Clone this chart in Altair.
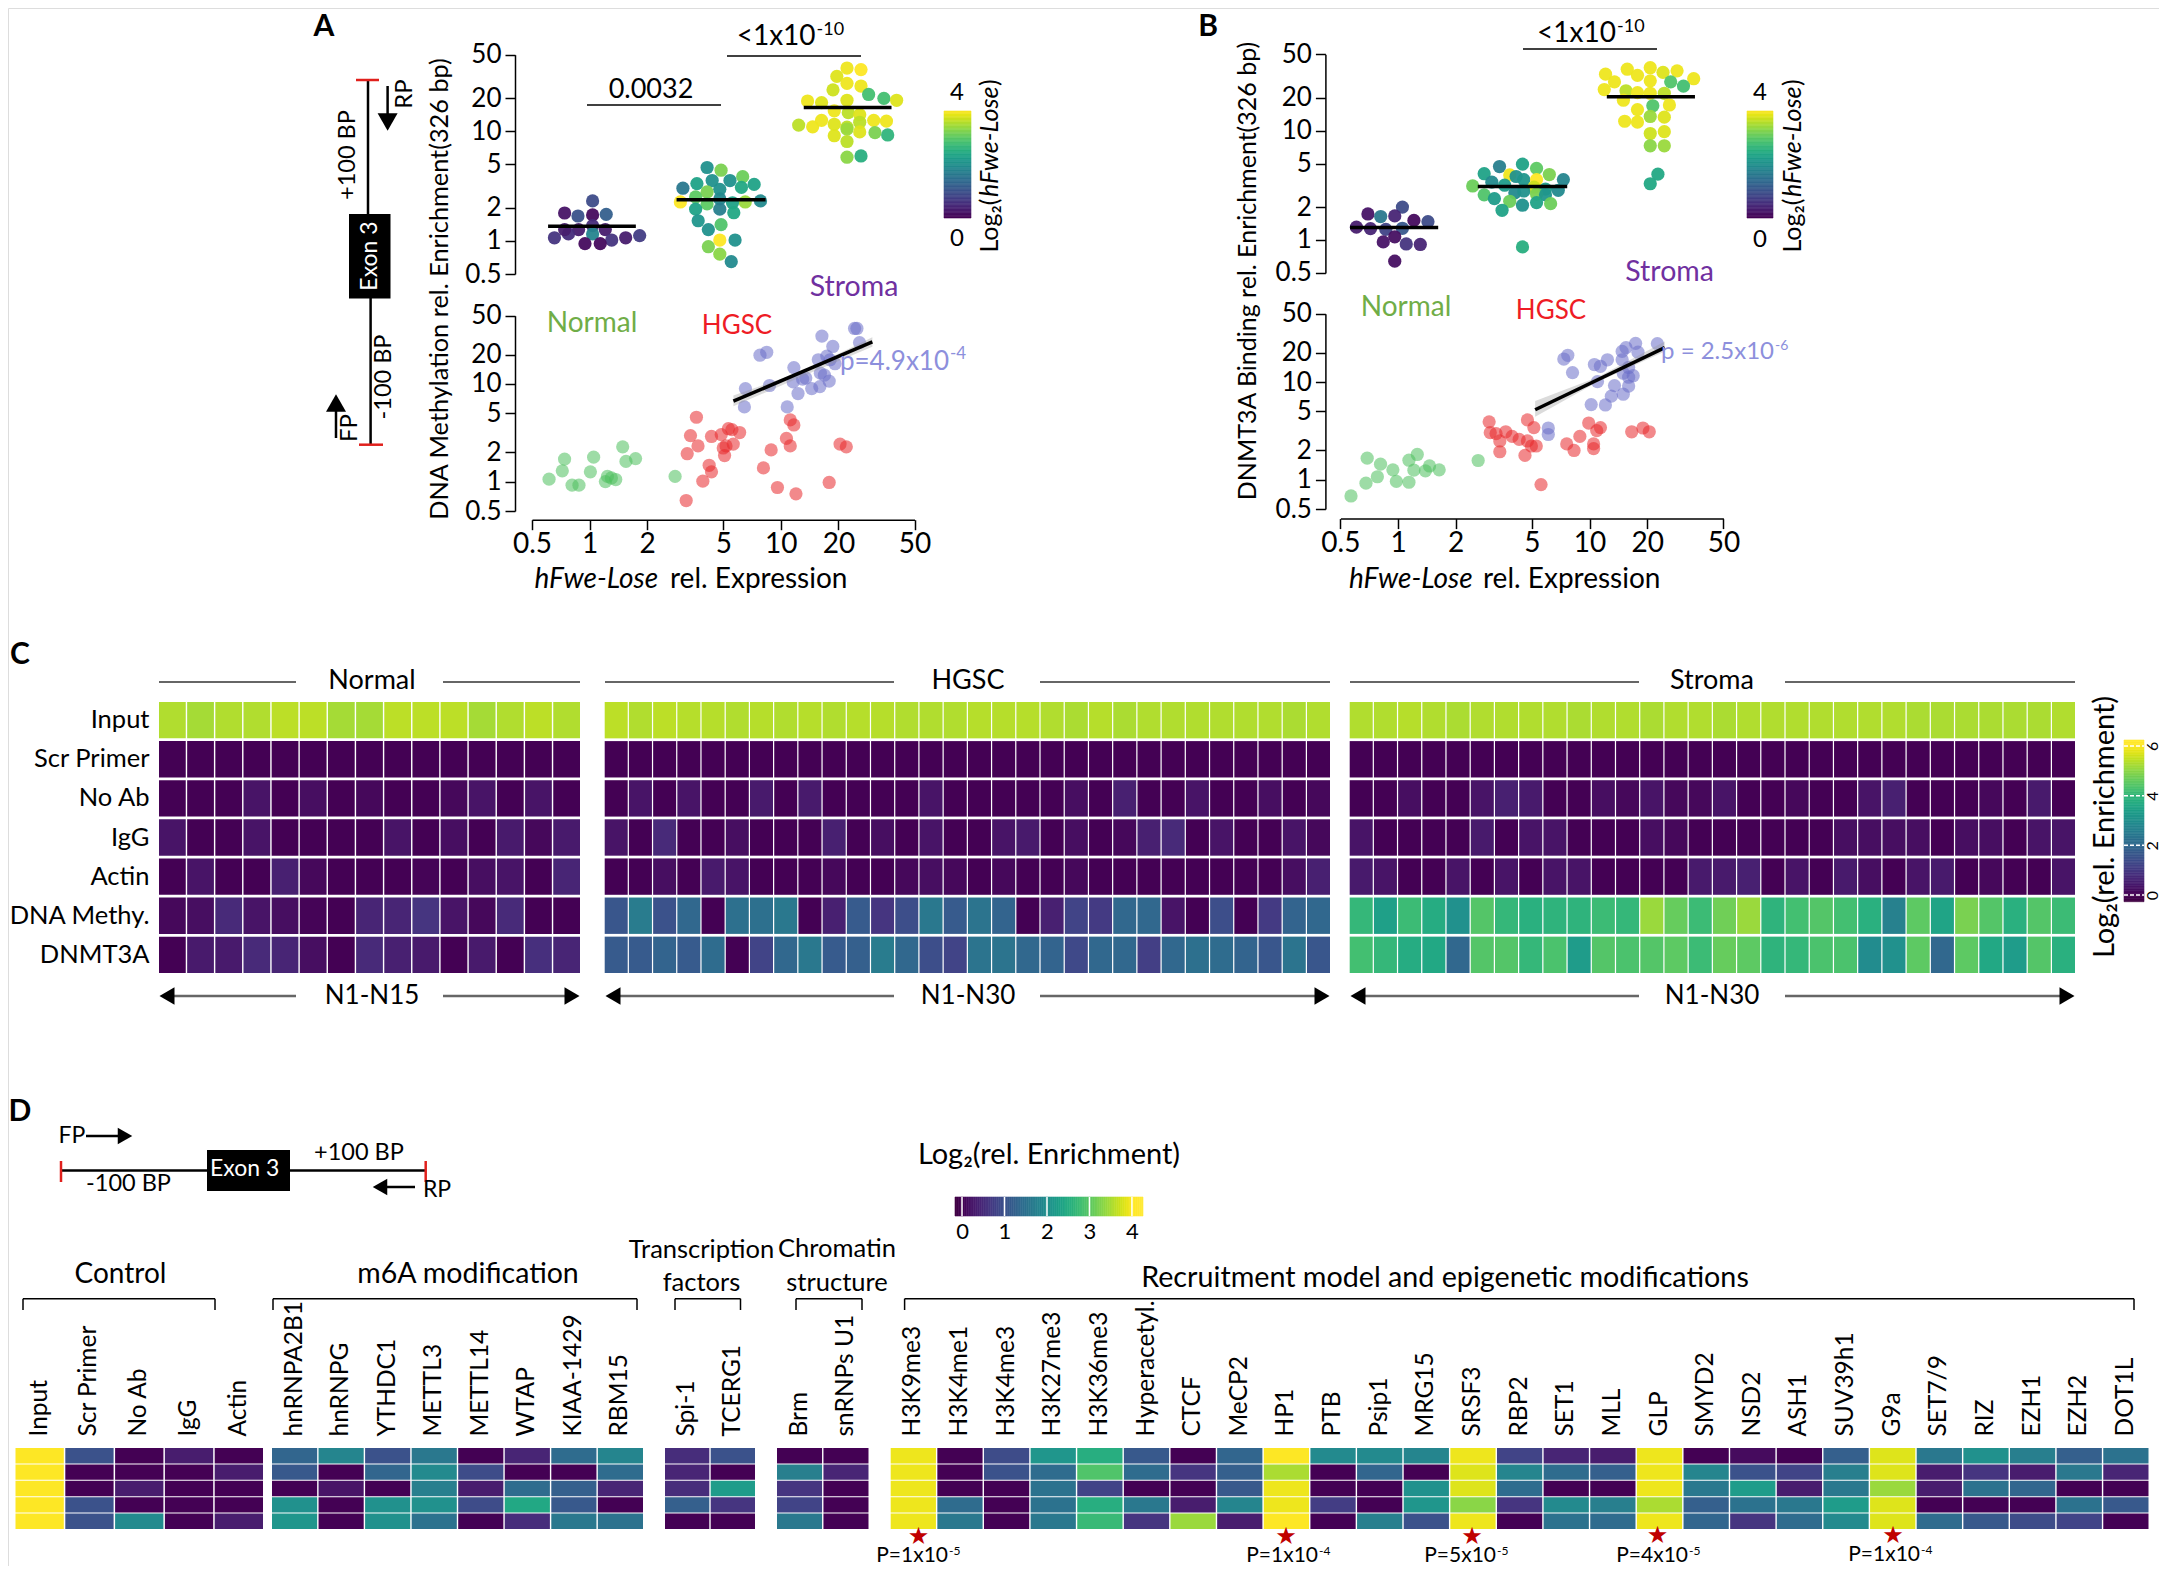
import altair as alt
import numpy as np
import pandas as pd

W, H = 2151, 1558
X = lambda v: v - 8
Y = lambda v: v - 8
LOGT = [0.5, 1, 2, 5, 10, 20, 50]

# ---------- Panel A swarm ----------
A_n_pos = [1.00,.78,.885,1.0,1.107,.89,1.0,1.10,.70,.81,1.0,1.15,1.26,1.37,.94,1.06,.78]
A_n_val = [2.32,1.80,1.69,1.73,1.75,1.27,1.38,1.27,1.07,1.16,1.16,1.02,1.07,1.12,.946,.946,1.27]
A_n_col = [.9,.2,1.0,.1,1.2,.3,.5,.3,.6,.5,1.8,.6,.3,.7,.1,.1,.3]
A_h_pos = [1.90,2.01,2.18,1.94,2.08,1.82,2.27,1.71,2.0,2.17,1.90,1.69,1.90,2.20,2.32,2.10,2.0,1.81,1.81,2.0,2.11,1.83,2.01,1.91,2.0,2.12,1.91,2.0,2.09]
A_h_val = [4.68,4.42,3.86,3.56,3.56,3.34,3.28,3.03,2.96,3.08,2.80,2.27,2.18,2.27,2.32,2.23,2.42,2.52,1.95,1.95,1.81,1.53,1.41,1.27,1.02,1.02,.887,.76,.648]
A_h_col = [2.0,3.2,3.1,2.0,2.0,2.3,2.3,1.6,2.0,2.4,3.2,4.0,3.0,3.4,1.9,2.3,1.9,3.0,2.3,1.7,2.4,2.1,2.9,2.0,4.0,2.0,3.2,3.3,1.9]
A_s_pos = [3.0,3.11,2.92,2.89,3.0,3.11,3.0,3.17,3.29,3.39,2.69,2.80,2.90,3.01,3.10,2.62,2.73,2.80,2.90,3.0,3.10,3.21,3.31,2.90,3.0,3.10,3.22,3.32,3.0,3.0,3.11]
A_s_val = [37.8,36.6,31.7,23.9,27.4,25.9,19.2,21.7,20.0,19.2,18.9,18.3,15.4,14.8,14.2,11.4,11.0,12.6,11.6,10.9,12.1,12.6,12.4,9.12,10.5,9.88,9.73,9.27,8.08,5.81,5.96]
A_s_col = [3.9,4.0,3.8,3.7,3.9,3.9,3.8,2.8,2.8,3.8,3.9,3.8,3.9,3.6,3.8,3.6,3.9,3.9,3.8,3.6,3.6,3.9,3.9,3.8,3.4,3.8,3.2,2.6,3.6,3.3,2.5]
A_med_lo = [.65,1.66,2.66]
A_med_hi = [1.34,2.36,3.35]
A_med_v = [1.36,2.38,16.5]

# ---------- Panel A scatter ----------
A_gx = [.614,.72,.74,.81,.88,1.01,1.05,1.21,1.24,1.30,1.37,1.49,1.55,1.74,2.8]
A_gy = [1.06,1.29,1.70,.92,.92,1.26,1.78,1.0,1.13,1.09,1.05,2.27,1.61,1.72,1.13]
A_rx = [3.2,3.62,3.37,3.69,3.24,4.34,4.88,5.32,5.55,6.09,5.17,5.64,5.08,5.0,4.22,4.34,3.91,11.2,11.7,10.7,11.2,8.9,8.11,9.6,12.0,17.9,20.4,22]
A_ry = [.64,4.56,2.96,2.32,1.93,2.90,3.03,3.48,3.41,3.18,2.32,2.42,1.85,2.21,1.47,1.26,1.01,4.28,3.80,2.77,2.32,2.11,1.38,.87,.75,.98,2.42,2.27]
A_bx = [6.45,6.53,8.73,7.78,8.44,10.8,12.3,11.6,11.7,13.5,13,14.5,16,17.9,16.1,16.9,15.7,17.4,18.7,16.4,24.3,25,25.8,19.2,18.1]
A_by = [5.82,8.97,9.64,19.7,21.1,5.82,7.98,10.5,14.7,11.5,11.2,8.97,9.4,10.7,12.9,12.3,17.7,19.3,24.2,30.9,37,37,26.5,16.1,17.7]
A_trend_x = [5.65,30.1]
A_trend_y = [6.66,27]
A_band_x = [5.65,13,30.1]
A_band_lo = [5.9,12.0,24]
A_band_hi = [7.6,13.5,30]

# ---------- Panel B swarm ----------
B_n_pos = [1.06,.79,.89,1.0,1.15,1.26,.70,.81,.93,1.06,1.0,.91,1.09,1.2,1.0]
B_n_val = [2.0,1.73,1.64,1.66,1.51,1.47,1.31,1.27,1.25,1.28,1.07,.96,.92,.91,.64]
B_n_col = [.9,.2,1.6,.4,.1,.9,.3,.4,.8,1.1,.15,.2,.6,.4,.15]
B_h_pos = [2.0,1.82,2.11,1.70,1.90,2.21,1.95,2.01,2.11,2.32,1.76,1.61,1.86,2.09,2.18,2.28,1.70,1.78,1.94,2.01,2.11,2.18,1.90,2.0,2.11,2.22,1.84,2.0]
B_h_val = [4.94,4.7,4.52,4.04,3.94,3.97,3.81,3.57,3.57,3.57,3.38,3.12,3.17,3.04,2.92,2.85,2.59,2.39,2.7,2.81,2.63,2.59,2.26,2.08,2.2,2.15,1.87,.865]
B_h_col = [2.3,1.7,3.0,2.3,3.9,3.2,2.0,2.1,4.0,1.8,1.9,3.1,2.2,3.7,2.2,1.9,2.9,2.2,1.9,2.0,3.2,2.1,3.1,2.0,2.3,3.1,2.3,2.5]
B_s_pos = [2.82,3.0,2.65,2.90,3.10,3.21,3.34,2.72,3.0,3.16,3.26,2.64,2.81,2.90,3.11,3.0,2.79,3.15,3.02,2.90,3.0,3.11,2.80,2.90,3.0,3.11,3.0,3.11,3.06,3.0]
B_s_val = [36.5,37.7,32.9,32.1,34.2,35.3,29.9,28,28.6,28,25.6,23.8,23.2,22.3,22,22,19,17.2,16.9,15.6,13.5,13.3,12.2,12,9.42,9.8,7.28,7.28,4.0,3.27]
B_s_col = [3.9,3.9,3.9,3.9,3.8,3.9,3.9,3.9,3.9,2.9,2.8,3.9,3.6,3.9,3.6,3.9,3.9,3.9,2.9,3.9,3.4,3.8,3.9,3.9,3.7,3.8,3.3,3.4,2.4,2.4]
B_med_lo = [.65,1.65,2.66]
B_med_hi = [1.34,2.35,3.35]
B_med_v = [1.30,3.09,20.4]

# ---------- Panel B scatter ----------
B_gx = [.568,.68,.69,.78,.81,.94,.98,1.14,1.14,1.26,1.21,1.39,1.46,1.64,2.62]
B_gy = [.68,.92,1.66,1.07,1.44,1.26,.96,.94,1.58,1.81,1.25,1.23,1.38,1.26,1.57]
B_rx = [2.99,3.03,3.25,3.65,3.4,3.4,3.94,4.29,4.74,5.12,4.74,4.97,5.27,4.6,5.58,7.6,8.3,8.9,9.9,11.4,10.9,10.5,10.5,16.6,19,20.5]
B_ry = [3.91,3.03,2.96,3.09,2.49,1.93,2.77,2.58,4.09,3.41,2.49,2.21,2.21,1.77,.89,2.32,1.99,2.77,3.80,3.41,3.18,2.32,2.08,3.09,3.38,3.09]
B_bx = [6.09,6.09,7.34,7.7,8.15,10.2,12.1,13,15,13.5,16,11,10.6,11.4,12.4,14.8,15.5,14.8,17.4,17.9,16,16.9,16,22.6,15]
B_by = [3.38,2.90,17.2,18.8,12.5,5.87,5.82,7.16,7.5,9.2,9.1,10.1,15.1,14.5,16.9,16.9,22.5,20.6,24.9,20.2,14.1,11.6,11.2,24.7,12.3]
B_trend_x = [5.2,24.7]
B_trend_y = [5.2,22.5]
B_band_x = [5.2,11,24.7]
B_band_lo = [4.4,10,20.5]
B_band_hi = [6.4,11.2,26]

# ---------- Panel C ----------
C_rows = ["Input","Scr Primer","No Ab","IgG","Actin","DNA Methy.","DNMT3A"]
C_normal = {
 "Input":[5.3,5.2,5.3,5.3,5.4,5.4,5.2,5.2,5.4,5.4,5.4,5.2,5.3,5.4,5.3],
 "Scr Primer":[0,0,0,0,0,0,0,0,0,0,0,0,0,0,0],
 "No Ab":[0,0,0,.3,0,.2,0,.1,0,0,.1,.3,0,.3,0],
 "IgG":[.3,0,0,.3,0,0,0,0,.3,0,.2,0,.4,.1,.4],
 "Actin":[0,.3,0,0,.5,.1,0,0,0,.05,0,.2,.3,0,.6],
 "DNA Methy.":[.1,.2,.7,.3,.2,.05,0,.6,.6,.9,.3,.1,.7,0,0],
 "DNMT3A":[0,.4,.4,.7,.6,.2,0,.7,.5,.4,0,.4,0,.8,.6],
}
C_hgsc = {
 "Input":[5.4,5.3,5.4,5.35,5.35,5.3,5.35,5.3,5.35,5.3,5.35,5.35,5.3,5.3,5.3,5.35,5.35,5.35,5.3,5.25,5.35,5.25,5.3,5.3,5.3,5.3,5.3,5.3,5.25,5.3],
 "Scr Primer":[0,0,0,0,0,0,0,0,0,0,0,0,0,0,0,0,0,0,0,0,0,0,0,0,0,0,0,0,0,0],
 "No Ab":[0,.3,0,.3,0,0,.4,0,.4,0,0,0,0,.3,0,0,0,0,0,.2,0,.5,0,0,.3,0,0,.2,0,.1],
 "IgG":[.3,0,.7,0,0,.2,0,0,0,.5,0,.2,0,.3,0,0,.3,.4,0,.2,0,.1,.5,.7,0,.3,0,0,.3,.1],
 "Actin":[0,0,.2,0,.4,.3,0,0,0,.1,0,0,.1,.2,.1,0,.1,0,0,.1,0,0,0,0,0,0,0,0,.2,.5],
 "DNA Methy.":[1.6,2.5,1.5,2.0,0,2.2,2.2,2.4,0,.5,1.7,.9,1.4,2.4,1.7,2.3,1.9,0,.5,1.2,1.0,2.0,2.0,.3,0,1.4,0,1.0,1.9,2.0],
 "DNMT3A":[1.7,1.7,1.9,1.7,2.1,0,1.2,2.0,2.4,1.7,1.8,2.5,2.0,1.4,1.2,2.3,2.3,2.0,1.9,1.3,2.0,2.0,1.1,2.0,2.2,2.1,1.9,1.6,2.3,1.6],
}
C_stroma = {
 "Input":[5.3,5.3,5.35,5.3,5.25,5.3,5.3,5.3,5.3,5.25,5.3,5.3,5.25,5.3,5.3,5.25,5.3,5.3,5.3,5.3,5.3,5.3,5.3,5.25,5.25,5.25,5.25,5.25,5.25,5.3],
 "Scr Primer":[0,0,0,0,0,0,0,0,0,0,0,0,0,0,0,0,0,0,0,0,0,0,0,0,0,0,0,0,0,0],
 "No Ab":[0,0,.2,0,0,.3,.5,.4,0,0,.2,.1,.3,.1,.1,.3,0,0,.1,0,0,.3,.5,0,0,0,.1,0,.4,0],
 "IgG":[.3,0,0,0,0,.4,0,.3,.3,0,0,0,.2,.1,0,0,0,0,0,0,.2,.2,.2,.2,0,.2,.2,0,.3,.3],
 "Actin":[.4,.3,0,0,.3,0,.3,0,.3,.3,0,0,0,0,.4,.4,.5,0,.3,0,.4,.2,0,.3,.4,0,.1,0,0,.3],
 "DNA Methy.":[4.0,3.4,4.1,3.7,3.0,4.4,4.0,3.8,3.9,3.9,4.1,4.0,5.1,4.6,4.1,4.7,5.1,3.9,4.2,4.4,4.2,3.8,2.6,4.5,3.5,4.8,4.4,3.8,4.4,4.1],
 "DNMT3A":[4.2,4.0,3.7,3.6,2.0,4.4,4.4,4.0,4.3,3.3,4.4,4.3,4.4,4.5,4.1,4.6,4.5,3.9,4.0,4.3,4.3,2.9,3.0,4.5,2.0,4.5,3.6,3.3,4.4,3.8],
}

# ---------- Panel D (each gene: five rows, top to bottom) ----------
D_control = {"Input":[4,4,4,4,4],"Scr Primer":[1.0,0,0,1.0,1.0],"No Ab":[0,0,.3,0,1.9],"IgG":[.3,0,0,0,0],"Actin":[0,.3,0,0,.3]}
D_m6a = {"hnRNPA2B1":[1.3,1.1,0,2.0,2.1],"hnRNPG":[1.8,0,.2,0,0],"YTHDC1":[1.0,1.3,0,2.0,2.0],"METTL3":[1.6,1.9,1.7,2.0,1.5],
         "METTL14":[0,.9,.3,.9,0],"WTAP":[.4,0,1.4,2.4,.5],"KIAA-1429":[1.4,0,1.2,1.1,1.6],"RBM15":[1.8,1.4,.4,0,1.5]}
D_tf = {"Spi-1":[.5,.4,.5,1.2,0],"TCERG1":[1.0,0,2.2,.6,0]}
D_chrom = {"Brm":[0,1.7,.6,.8,1.6],"snRNPs U1":[0,.4,0,0,0]}
D_recruit = {"H3K9me3":[3.9,3.9,3.9,3.9,3.9],"H3K4me1":[0,0,0,1.4,1.6],"H3K4me3":[.9,1.0,0,0,0],"H3K27me3":[2.1,1.4,1.5,1.5,1.6],
 "H3K36me3":[2.5,2.9,.8,2.5,2.7],"Hyperacetyl.":[1.1,1.4,0,1.6,.6],"CTCF":[0,.6,0,.3,3.4],"MeCP2":[1.3,1.2,1.1,1.8,.3],
 "HP1":[4,3.5,3.9,3.9,4],"PTB":[1.9,0,0,.7,0],"Psip1":[1.9,1.3,0,0,1.7],"MRG15":[1.8,0,2.0,2.1,1.0],"SRSF3":[3.9,3.8,3.8,3.3,3.9],
 "RBP2":[.8,1.8,1.4,.6,0],"SET1":[.4,1.4,0,1.9,1.5],"MLL":[.3,1.2,0,1.7,1.4],"GLP":[3.9,3.9,3.9,3.5,3.9],"SMYD2":[0,1.8,1.6,1.2,1.3],
 "NSD2":[.1,1.0,2.2,1.5,.6],"ASH1":[0,.8,.3,1.6,1.4],"SUV39h1":[1.2,1.7,1.6,2.2,1.9],"G9a":[3.8,3.8,3.4,3.8,3.8],"SET7/9":[1.6,.3,.3,0,1.4],
 "RIZ":[2.0,.6,1.5,0,1.1],"EZH1":[1.7,.3,1.3,0,.9],"EZH2":[1.2,1.6,0,1.5,.8],"DOT1L":[1.5,.4,0,1.1,0]}

GREEN, RED, BLUE = "#4cc05c", "#e8282c", "#6a6ec8"
ONE = alt.Data(values=[{"k": 0}])
layers = []
add = layers.append


def txt(x, y, s, size=24, color="black", angle=0, align="center", style="normal", weight="normal", font="Lato"):
    add(alt.Chart(ONE).mark_text(text=s, fontSize=size, color=color, angle=angle, align=align, baseline="middle",
                                 fontStyle=style, fontWeight=weight, font=font)
        .encode(x=alt.value(X(x)), y=alt.value(Y(y))))


def hline(x0, x1, y, color="black", w=1.5):
    add(alt.Chart(ONE).mark_rule(color=color, strokeWidth=w).encode(x=alt.value(X(x0)), x2=alt.value(X(x1)), y=alt.value(Y(y))))


def vline(x, y0, y1, color="black", w=1.5):
    add(alt.Chart(ONE).mark_rule(color=color, strokeWidth=w).encode(x=alt.value(X(x)), y=alt.value(Y(y0)), y2=alt.value(Y(y1))))


def box(x0, x1, y0, y1):
    add(alt.Chart(ONE).mark_rect(color="black").encode(x=alt.value(X(x0)), x2=alt.value(X(x1)), y=alt.value(Y(y0)), y2=alt.value(Y(y1))))


def head(x, y, shape, size):
    add(alt.Chart(ONE).mark_point(filled=True, shape=shape, size=size, color="black", opacity=1).encode(x=alt.value(X(x)), y=alt.value(Y(y))))


def bracket(x0, x1, y0=1298.7, y1=1310):
    hline(x0, x1, y0)
    vline(x0, y0, y1)
    vline(x1, y0, y1)


def yaxis(px, size=26):
    return alt.Axis(orient="left", offset=-X(px), values=LOGT, format="~g", title=None, grid=False, labelFont="Lato", labelFontSize=size,
                    labelColor="black", tickColor="black", domainColor="black", domainWidth=1.5, tickWidth=1.5, tickSize=10, labelPadding=4,
                    labelOverlap=False, labelFlush=False)


def xaxis(py, size=28):
    return alt.Axis(orient="bottom", offset=-(H - Y(py)), values=LOGT, format="~g", title=None, grid=False, labelFont="Lato", labelFontSize=size,
                    labelColor="black", tickColor="black", domainColor="black", domainWidth=1.5, tickWidth=1.5, tickSize=10, labelPadding=1,
                    labelOverlap=False, labelFlush=False)


def swarm(pos, val, col, med_lo, med_hi, med_v, xr, yr, axis_x):
    sx = alt.Scale(domain=[0, 4], range=[X(xr[0]), X(xr[1])])
    sy = alt.Scale(type="log", domain=[0.5, 50], range=[Y(yr[0]), Y(yr[1])], nice=False)
    df = pd.DataFrame({"p": pos, "v": val, "c": col})
    add(alt.Chart(df).mark_circle(size=175, opacity=0.95).encode(
        x=alt.X("p:Q", scale=sx, axis=None),
        y=alt.Y("v:Q", scale=sy, axis=yaxis(axis_x)),
        color=alt.Color("c:Q", scale=alt.Scale(scheme="viridis", domain=[0, 4]), legend=None)))
    dm = pd.DataFrame({"a": med_lo, "b": med_hi, "v": med_v})
    add(alt.Chart(dm).mark_rule(color="black", strokeWidth=3.5).encode(
        x=alt.X("a:Q", scale=sx, axis=None), x2="b:Q", y=alt.Y("v:Q", scale=sy, axis=None)))


def scatter(groups, trend, band, xr, yr, ax, ay):
    sx = alt.Scale(type="log", domain=[0.5, 50], range=[X(xr[0]), X(xr[1])], nice=False)
    sy = alt.Scale(type="log", domain=[0.5, 50], range=[Y(yr[0]), Y(yr[1])], nice=False)
    first = True
    for gx, gy, colr in groups:
        df = pd.DataFrame({"x": gx, "y": gy})
        add(alt.Chart(df).mark_circle(size=175, opacity=0.55, color=colr).encode(
            x=alt.X("x:Q", scale=sx, axis=xaxis(ax) if first else None),
            y=alt.Y("y:Q", scale=sy, axis=yaxis(ay) if first else None)))
        first = False
    db = pd.DataFrame({"x": band[0], "lo": band[1], "hi": band[2]})
    add(alt.Chart(db).mark_area(color="#999999", opacity=0.35).encode(
        x=alt.X("x:Q", scale=sx, axis=None), y=alt.Y("lo:Q", scale=sy, axis=None), y2="hi:Q"))
    dt = pd.DataFrame({"x": trend[0], "y": trend[1]})
    add(alt.Chart(dt).mark_line(color="black", strokeWidth=3.5).encode(
        x=alt.X("x:Q", scale=sx, axis=None), y=alt.Y("y:Q", scale=sy, axis=None)))


def vbar(x0, x1, y0, y1):
    grad = np.linspace(0, 4, 81)
    df = pd.DataFrame({"lo": grad[:-1], "hi": grad[1:]})
    vs = alt.Scale(scheme="viridis", domain=[0, 4])
    add(alt.Chart(df).mark_rect(strokeWidth=0.6).encode(
        y=alt.Y("lo:Q", scale=alt.Scale(domain=[0, 4], range=[Y(y1), Y(y0)]), axis=None), y2="hi:Q",
        x=alt.value(X(x0)), x2=alt.value(X(x1)),
        color=alt.Color("lo:Q", scale=vs, legend=None),
        stroke=alt.Stroke("lo:Q", scale=vs, legend=None)))


def heatC(table, xr, axis_rows):
    n = len(table["Input"])
    rec = [{"row": r, "col": i + 1, "v": table[r][i]} for r in C_rows for i in range(n)]
    yax = alt.Axis(orient="left", offset=-(X(159) - 10), title=None, domain=False, ticks=False, labelFont="Lato", labelFontSize=25.5,
                   labelColor="black", labelPadding=0, labelLimit=400) if axis_rows else None
    add(alt.Chart(pd.DataFrame(rec)).mark_rect().encode(
        x=alt.X("col:O", scale=alt.Scale(domain=list(range(1, n + 1)), range=[X(xr[0]), X(xr[1])], paddingInner=0.05, paddingOuter=0), axis=None),
        y=alt.Y("row:N", scale=alt.Scale(domain=C_rows, range=[Y(702), Y(973)], paddingInner=0.07, paddingOuter=0), axis=yax),
        color=alt.Color("v:Q", scale=alt.Scale(scheme="viridis", domain=[0, 6]), legend=None)))


def heatD(table, xr):
    genes = list(table)
    rec = [{"gene": g, "row": i, "v": table[g][i]} for g in genes for i in range(5)]
    xax = alt.Axis(orient="top", offset=-Y(1436), title=None, domain=False, ticks=False, labelAngle=270, labelAlign="left", labelBaseline="middle",
                   labelFont="Lato", labelFontSize=24.5, labelColor="black", labelPadding=0, labelOverlap=False, labelLimit=400)
    add(alt.Chart(pd.DataFrame(rec)).mark_rect().encode(
        x=alt.X("gene:N", scale=alt.Scale(domain=genes, range=[X(xr[0]), X(xr[1])], paddingInner=0.03, paddingOuter=0), axis=xax),
        y=alt.Y("row:O", scale=alt.Scale(domain=[0, 1, 2, 3, 4], range=[Y(1448), Y(1529)], paddingInner=0.06, paddingOuter=0), axis=None),
        color=alt.Color("v:Q", scale=alt.Scale(scheme="viridis", domain=[0, 4]), legend=None)))


# ===== Panel A =====
swarm(A_n_pos + A_h_pos + A_s_pos, A_n_val + A_h_val + A_s_val, A_n_col + A_h_col + A_s_col,
      A_med_lo, A_med_hi, A_med_v, (465.4, 974.2), (274, 54.7), 515)
scatter([(A_gx, A_gy, GREEN), (A_rx, A_ry, RED), (A_bx, A_by, BLUE)], (A_trend_x, A_trend_y), (A_band_x, A_band_lo, A_band_hi),
        (532, 914.5), (511, 315.7), 519.7, 515)
vbar(944, 971, 111, 218)
txt(957, 93, "4", 24)
txt(957, 239, "0", 24)
txt(990, 252.6, "Log₂(", 25, angle=270, align="left")
txt(990, 197, "hFwe-Lose", 25, angle=270, align="left", style="italic")
txt(990, 86, ")", 25, angle=270, align="left")
txt(324, 27, "A", 30, weight="bold")
txt(440, 289, "DNA Methylation rel. Enrichment(326 bp)", 25.3, angle=270)
txt(651, 90, "0.0032", 27)
hline(587, 721, 105)
txt(815.6, 37, "<1x10", 28, align="right")
txt(816.6, 30, "-10", 18, align="left")
hline(727, 861, 56)
txt(592, 324, "Normal", 28, color="#70ad47")
txt(737, 326, "HGSC", 26, color="#ee1c25")
txt(854, 287, "Stroma", 28.5, color="#7030a0")
txt(949, 362, "p=4.9x10", 26, color="#8d8fdc", align="right")
txt(950, 354, "-4", 17, color="#8d8fdc", align="left")
txt(534.5, 580, "hFwe-Lose", 28, align="left", style="italic")
txt(670, 580, "rel. Expression", 28, align="left")
# gene schematic A
vline(368, 80, 214, w=2.5)
vline(370.6, 298, 444, w=2.5)
hline(356, 379, 80, color="#e0201c", w=2.5)
hline(359, 383, 444.7, color="#e0201c", w=2.5)
box(349, 390.5, 214, 298.5)
txt(370, 256, "Exon 3", 23, color="white", angle=270)
txt(348, 155, "+100 BP", 23.5, angle=270)
txt(384, 377, "-100 BP", 23.5, angle=270)
vline(387.6, 86, 116, w=2.5)
head(387.6, 122, "triangle-down", 400)
txt(405, 94, "RP", 24, angle=270)
vline(336, 438, 410, w=2.5)
head(336, 403, "triangle-up", 400)
txt(350, 428, "FP", 24, angle=270)

# ===== Panel B =====
swarm(B_n_pos + B_h_pos + B_s_pos, B_n_val + B_h_val + B_s_val, B_n_col + B_h_col + B_s_col,
      B_med_lo, B_med_hi, B_med_v, (1267, 1778), (272.9, 54.3), 1325.4)
scatter([(B_gx, B_gy, GREEN), (B_rx, B_ry, RED), (B_bx, B_by, BLUE)], (B_trend_x, B_trend_y), (B_band_x, B_band_lo, B_band_hi),
        (1340.4, 1723.4), (509, 313.8), 518.6, 1325.4)
vbar(1747, 1773, 111, 218)
txt(1760, 93, "4", 24)
txt(1760, 240, "0", 24)
txt(1793, 252.6, "Log₂(", 25, angle=270, align="left")
txt(1793, 197, "hFwe-Lose", 25, angle=270, align="left", style="italic")
txt(1793, 86, ")", 25, angle=270, align="left")
txt(1208, 27, "B", 30, weight="bold")
txt(1248, 271, "DNMT3A Binding rel. Enrichment(326 bp)", 25, angle=270)
txt(1616, 34, "<1x10", 28, align="right")
txt(1617, 27, "-10", 18, align="left")
hline(1523, 1657, 49)
txt(1406, 308, "Normal", 28, color="#70ad47")
txt(1551, 311, "HGSC", 26, color="#ee1c25")
txt(1669.6, 272, "Stroma", 28.5, color="#7030a0")
txt(1774, 352, "p = 2.5x10", 24, color="#8d8fdc", align="right")
txt(1775, 346, "-6", 14, color="#8d8fdc", align="left")
txt(1349, 580, "hFwe-Lose", 28, align="left", style="italic")
txt(1483, 580, "rel. Expression", 28, align="left")

# ===== Panel C =====
txt(20, 655, "C", 30, weight="bold")
heatC(C_normal, (159, 580), True)
heatC(C_hgsc, (604.7, 1330), False)
heatC(C_stroma, (1349.7, 2075), False)
for xa, xb, xc, xd, cx, top, bottom in [(159, 296, 443, 580, 372, "Normal", "N1-N15"),
                                        (605, 894, 1040, 1330, 968, "HGSC", "N1-N30"),
                                        (1350, 1639, 1785, 2075, 1712, "Stroma", "N1-N30")]:
    hline(xa, xb, 682, color="#666666", w=2)
    hline(xc, xd, 682, color="#666666", w=2)
    txt(cx, 681, top, 27)
    hline(xa + 8, xb, 996, color="#666666", w=2.5)
    hline(xc, xd - 8, 996, color="#666666", w=2.5)
    txt(cx, 996, bottom, 26)
    head(xa + 8, 996, "triangle-left", 300)
    head(xd - 8, 996, "triangle-right", 300)
# colour bar C
c_grad = np.linspace(-0.27, 6.24, 101)
c_sc = alt.Scale(domain=[-0.27, 6.24], range=[Y(901.7), Y(740)])
c_vs = alt.Scale(scheme="viridis", domain=[0, 6])
add(alt.Chart(pd.DataFrame({"lo": c_grad[:-1], "hi": c_grad[1:]})).mark_rect(strokeWidth=0.6).encode(
    y=alt.Y("lo:Q", scale=c_sc, axis=alt.Axis(orient="right", offset=-(W - X(2144)), values=[0, 2, 4, 6], format="d", title=None, domain=False, ticks=False,
                                              grid=False, labelAngle=270, labelFont="Lato", labelFontSize=16, labelColor="black", labelPadding=0)),
    y2="hi:Q", x=alt.value(X(2124)), x2=alt.value(X(2144)),
    color=alt.Color("lo:Q", scale=c_vs, legend=None), stroke=alt.Stroke("lo:Q", scale=c_vs, legend=None)))
add(alt.Chart(pd.DataFrame({"t": [0, 2, 4, 6]})).mark_rule(color="white", strokeWidth=1.5, strokeDash=[4, 2]).encode(
    y=alt.Y("t:Q", scale=c_sc, axis=None), x=alt.value(X(2124)), x2=alt.value(X(2144))))
txt(2105, 827, "Log₂(rel. Enrichment)", 29, angle=270)

# ===== Panel D =====
txt(20, 1112, "D", 30, weight="bold")
heatD(D_control, (15.5, 263))
heatD(D_m6a, (272, 643))
heatD(D_tf, (665, 755))
heatD(D_chrom, (777, 868.5))
heatD(D_recruit, (890.7, 2148.5))
bracket(23, 215)
bracket(273, 637)
bracket(675, 740.5)
bracket(796, 862)
bracket(904.6, 2134)
txt(120.5, 1275, "Control", 28)
txt(468, 1274, "m6A modification", 28.5)
txt(701.5, 1250, "Transcription", 25.5)
txt(701.5, 1283, "factors", 25.5)
txt(837, 1249, "Chromatin", 25.5)
txt(837, 1283, "structure", 25.5)
txt(1445, 1278, "Recruitment model and epigenetic modifications", 28.7)
# gene schematic D
hline(61, 426, 1170.5, w=2.5)
box(207, 290, 1150, 1191)
txt(244.6, 1169, "Exon 3", 23, color="white")
vline(61, 1161, 1182, color="#e0201c", w=2.5)
vline(425.7, 1161, 1182, color="#e0201c", w=2.5)
txt(359, 1153, "+100 BP", 23.5)
txt(128.5, 1184, "-100 BP", 23.5)
txt(72, 1136, "FP", 23)
hline(86, 120, 1136, w=2.5)
head(125, 1136, "triangle-right", 280)
txt(437, 1190, "RP", 23)
hline(384, 415, 1187, w=2.5)
head(380, 1187, "triangle-left", 280)
txt(1049, 1155, "Log₂(rel. Enrichment)", 29)
d_grad = np.linspace(-0.165, 4.26, 101)
d_sc = alt.Scale(domain=[-0.165, 4.26], range=[X(955), X(1143)])
d_vs = alt.Scale(scheme="viridis", domain=[0, 4])
add(alt.Chart(pd.DataFrame({"lo": d_grad[:-1], "hi": d_grad[1:]})).mark_rect(strokeWidth=0.6).encode(
    x=alt.X("lo:Q", scale=d_sc, axis=alt.Axis(orient="bottom", offset=-(H - Y(1216)), values=[0, 1, 2, 3, 4], format="d", title=None, domain=False, ticks=False,
                                              grid=False, labelFont="Lato", labelFontSize=22, labelColor="black", labelPadding=5)),
    x2="hi:Q", y=alt.value(Y(1197)), y2=alt.value(Y(1216)),
    color=alt.Color("lo:Q", scale=d_vs, legend=None), stroke=alt.Stroke("lo:Q", scale=d_vs, legend=None)))
add(alt.Chart(pd.DataFrame({"t": [0, 1, 2, 3, 4]})).mark_rule(color="white", strokeWidth=1.5).encode(
    x=alt.X("t:Q", scale=d_sc, axis=None), y=alt.value(Y(1197)), y2=alt.value(Y(1216))))
for sx_, sy_ in [(918.6, 1537), (1286, 1537), (1472, 1537), (1657.5, 1536), (1893, 1536)]:
    txt(sx_, sy_, "★", 24, color="#c00000", font="DejaVu Sans")
for split, yy, base, exp in [(948, 1556, "P=1x10", "-5"), (1318, 1556, "P=1x10", "-4"), (1496, 1556, "P=5x10", "-5"),
                             (1688, 1556, "P=4x10", "-5"), (1920, 1555, "P=1x10", "-4")]:
    txt(split, yy, base, 21, align="right")
    txt(split + 1, yy - 5, exp, 12, align="left")

chart = alt.layer(*layers).resolve_scale(x="independent", y="independent", color="independent", stroke="independent").properties(
    width=W, height=H, padding=0, autosize=alt.AutoSizeParams(type="none")
).configure_view(stroke=None).configure(background="white")

chart.save("out.html", embed_options={"renderer": "svg", "actions": False})
